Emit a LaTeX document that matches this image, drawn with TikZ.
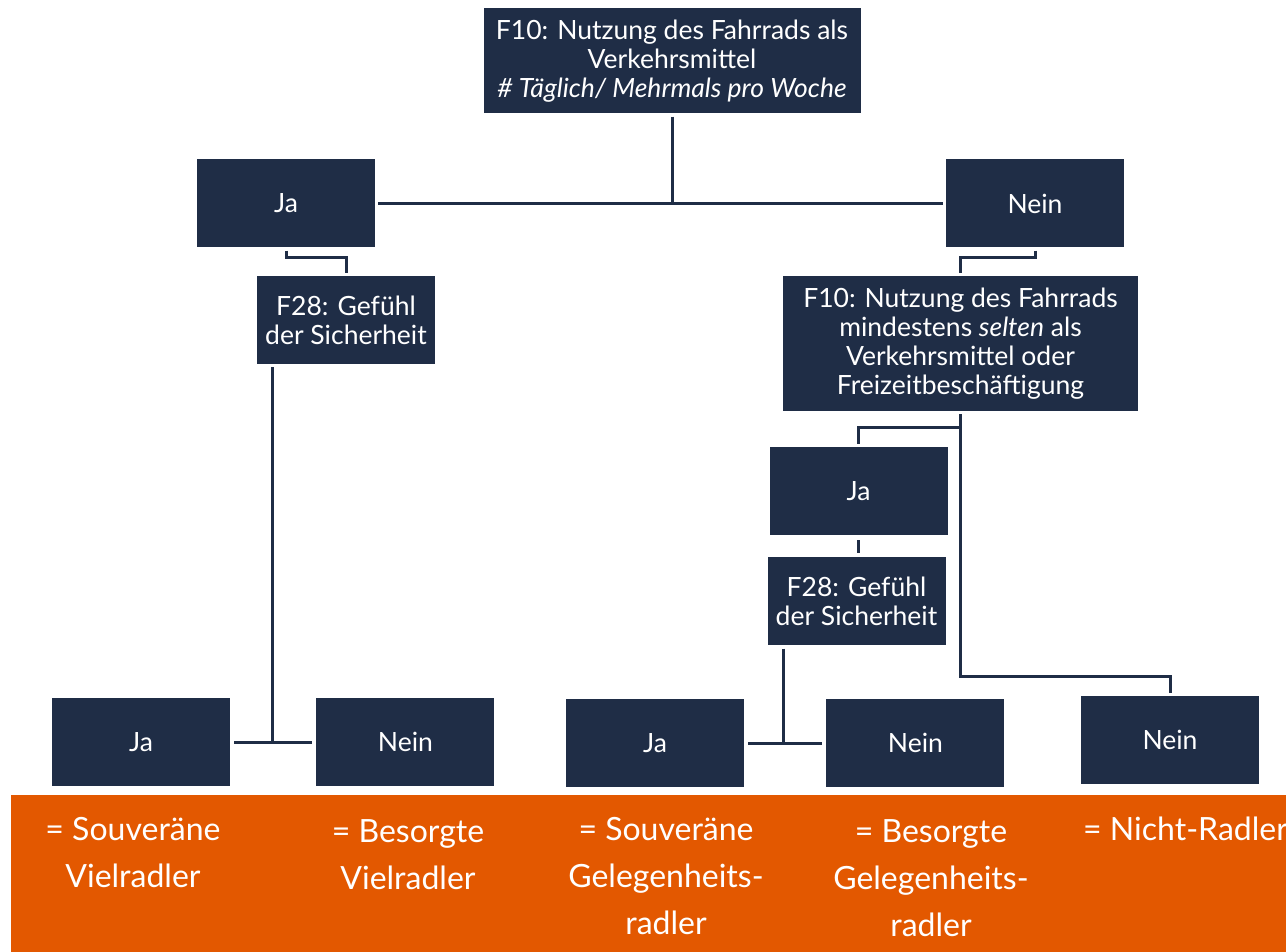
\documentclass[tikz,border=0pt]{standalone}
\usepackage{fontspec}
\setmainfont{Lato}
\usetikzlibrary{positioning,calc}
\definecolor{boxcolor}{RGB}{31,45,70}
\definecolor{bandcolor}{RGB}{227,88,0}
\tikzset{
	question/.style={
		rectangle,
		fill=boxcolor,
		text=white,
		align=center,
		inner sep=2pt,
		font=\fontsize{26.5}{29}\selectfont
	},
	answer/.style={
		question,
		minimum width=178pt,
		minimum height=88pt
	},
	link/.style={
		draw=boxcolor,
		line width=3pt
	},
	result/.style={
		text=white,
		align=center,
		anchor=base,
		inner sep=0pt,
		font=\fontsize{32}{47}\selectfont
	},
}

\begin{document}
\begin{tikzpicture}[x=1pt,y=-1pt]
		\clip (0,0) rectangle (1286,952);
		\node (q1) [question, minimum width=377pt, minimum height=105pt] at (672,61) {F10: Nutzung des Fahrrads als\\Verkehrsmittel\\\textit{\# Täglich/ Mehrmals pro Woche}};
		\node (ja1) [answer] at (286,203.5) {Ja};
		\node (nein1) [answer] at (1035,203.5) {Nein};
		\node (f28a) [answer] at (346,320) {F28: Gefühl\\der Sicherheit};
		\node (q2) [question, minimum width=355pt, minimum height=135pt] at (960.5,343.5) {F10: Nutzung des Fahrrads\\mindestens \textit{selten} als\\Verkehrsmittel oder\\Freizeitbeschäftigung};
		\node (ja2) [answer] at (858.5,491) {Ja};
		\node (f28b) [answer, below=22pt of ja2, xshift=-2pt] {F28: Gefühl\\der Sicherheit};
		\node (ja3) [answer] at (141,742) {Ja};
		\node (nein3) [answer, right=86pt of ja3] {Nein};
		\node (ja4) [answer] at (655,743) {Ja};
		\node (nein4) [answer, right=82pt of ja4] {Nein};
		\node (nein5) [answer] at (1170,740) {Nein};
		% Verbindungen
		\draw [link, shorten <=3pt, shorten >=3pt] (ja1) -- (nein1);
		\draw [link, shorten <=3pt] (q1) -- (q1 |- ja1);
		\draw [link, shorten <=3pt, shorten >=3pt] (ja1.south) -- ++(0,10) -| (f28a.north);
		\draw [link, shorten <=3pt, shorten >=3pt] (nein1.south) -- ++(0,10) -| (q2.north);
		\draw [link, shorten <=3pt, shorten >=3pt] (q2.south) -- ++(0,265) -| (nein5.north);
		\draw [link, shorten >=3pt] ($(q2.south)+(0,16)$) -| (ja2.north);
		\draw [link, shorten <=5pt, shorten >=4pt] (ja2.south) -- (ja2.south |- f28b.north);
		\coordinate (f28a-foot) at ($(f28a.south west)+(16,0)$);
		\coordinate (f28b-foot) at ($(f28b.south west)+(16,0)$);
		\draw [link, shorten <=3pt] (f28a-foot) -- (f28a-foot |- ja3);
		\draw [link, shorten <=4pt, shorten >=4pt] (ja3) -- (nein3);
		\draw [link, shorten <=3pt] (f28b-foot) -- (f28b-foot |- ja4);
		\draw [link, shorten <=4pt, shorten >=4pt] (ja4) -- (nein4);
		% Typen
		\fill [bandcolor] (11,795) rectangle (1290,955);
		\node (typ1) [result] at (133,887) {= Souveräne\\Vielradler};
		\node (typ2) [result] at (408,889) {= Besorgte\\Vielradler};
		\node (typ3) [result] at (666,934) {= Souveräne\\Gelegenheits-\\radler};
		\node (typ4) [result] at (931,936) {= Besorgte\\Gelegenheits-\\radler};
		\node (typ5) [result, anchor=base west] at (1083,840) {= Nicht-Radler};
\end{tikzpicture}
\end{document}
